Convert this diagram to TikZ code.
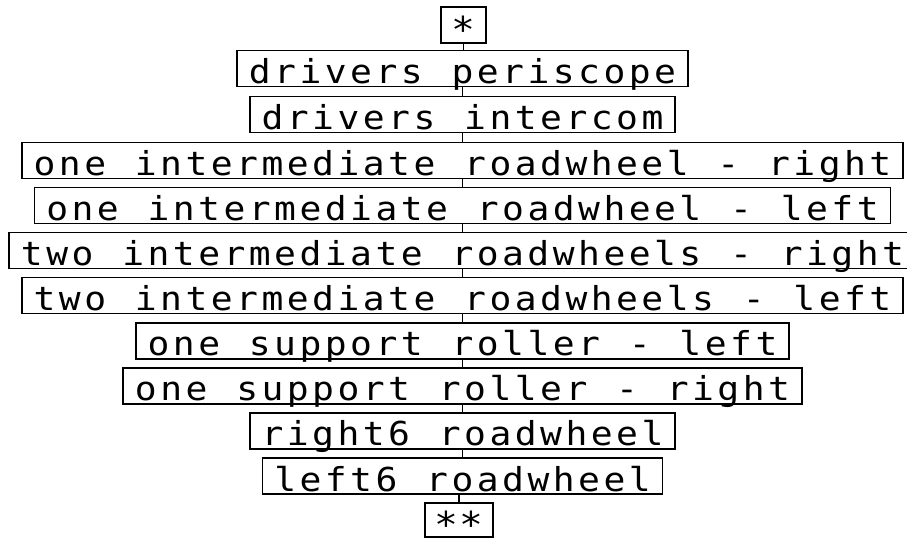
\documentclass[tikz,border=0pt]{standalone}
\usepackage{fontspec}
\setmonofont[FakeStretch=1.1]{DejaVu Sans Mono}
\newlength\charpitch
\setlength\charpitch{25.33pt}
\ExplSyntaxOn
\NewDocumentCommand\pitched{m}{\str_map_inline:nn{#1}{\makebox[\charpitch][c]{##1}}}
\ExplSyntaxOff
\newcommand\itemtext[1]{\raisebox{-15pt}[0pt][0pt]{\pitched{#1}}}
\newcommand\startext[1]{\raisebox{-10pt}[0pt][0pt]{\fontsize{36}{36}\selectfont\pitched{#1}}}
\tikzset{
  itembox/.style={draw, line width=1.6pt, inner sep=0pt, minimum height=36pt,
    font=\ttfamily\fontsize{33}{36}\selectfont},
  link/.style={line width=1.3pt}
}
\begin{document}
\begin{tikzpicture}[x=1pt,y=-1pt]
\useasboundingbox (0,0) rectangle (907,538);
\node[itembox, minimum width=45.3pt]  (n0)  at (463.5,25)    {\startext{∗}};
\node[itembox, minimum width=450.6pt] (n1)  at (462.5,68.5)  {\itemtext{drivers periscope}};
\node[itembox, minimum width=425.3pt] (n2)  at (462.5,114.5) {\itemtext{drivers intercom}};
\node[itembox, minimum width=881.2pt] (n3)  at (462.5,160.3) {\itemtext{one intermediate roadwheel - right}};
\node[itembox, minimum width=855.9pt] (n4)  at (462.5,205.4) {\itemtext{one intermediate roadwheel - left}};
\node[itembox, minimum width=906.6pt] (n5)  at (462.5,250.5) {\itemtext{two intermediate roadwheels - right}};
\node[itembox, minimum width=881.2pt] (n6)  at (462.5,295.6) {\itemtext{two intermediate roadwheels - left}};
\node[itembox, minimum width=653.3pt] (n7)  at (462.5,340.7) {\itemtext{one support roller - left}};
\node[itembox, minimum width=678.6pt] (n8)  at (462.5,385.8) {\itemtext{one support roller - right}};
\node[itembox, minimum width=425.3pt] (n9)  at (462.5,430.9) {\itemtext{right6 roadwheel}};
\node[itembox, minimum width=400pt]   (n10) at (462.5,476)   {\itemtext{left6 roadwheel}};
\node[itembox, minimum width=68pt, minimum height=34pt] (n11) at (459,520) {\startext{∗∗}};
\draw[link] (n0.south) -- (n0.south |- n1.north);
\foreach \a/\b in {n1/n2,n2/n3,n3/n4,n4/n5,n5/n6,n6/n7,n7/n8,n8/n9,n9/n10}
  \draw[link] (\a.south) -- (\b.north);
\draw[link] (n10.south -| n11.north) -- (n11.north);
\end{tikzpicture}
\end{document}
